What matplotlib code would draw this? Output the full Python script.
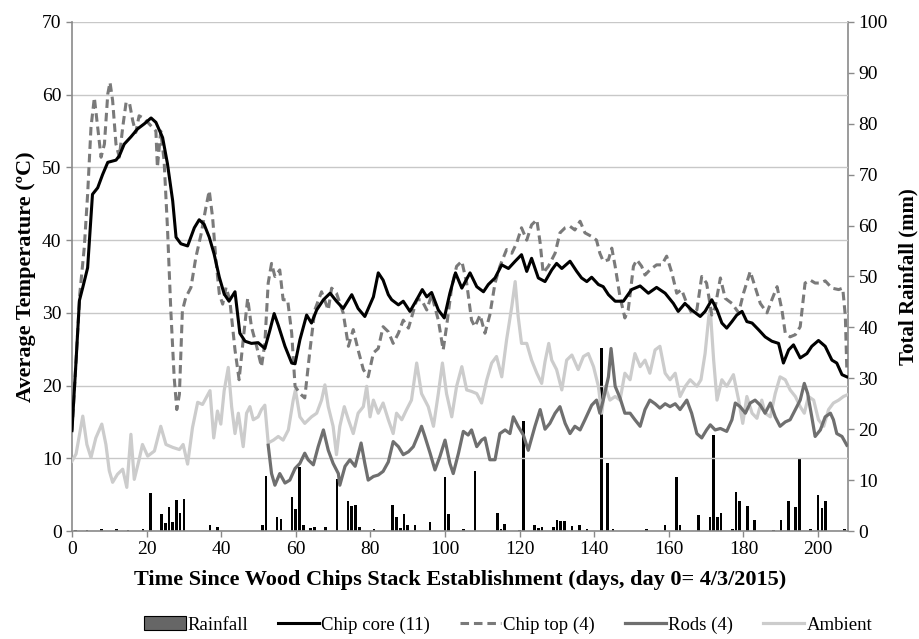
import matplotlib
matplotlib.use("Agg")
import matplotlib.pyplot as plt
from matplotlib.patches import Patch
from matplotlib.lines import Line2D

plt.rcParams['font.family'] = ['Liberation Serif', 'DejaVu Serif']

# ---------------- data ----------------
core_day = [0, 1.1, 2, 2.9, 4.2, 5.5, 6.9, 8.2, 9.6, 11.8, 12.7, 14, 15.8, 17.6, 19.4, 21.2, 22.5,
            24.3, 25.6, 27, 27.9, 29.2, 31, 32.8, 34.1, 35.4, 36.8, 38.1, 39.5, 40.8, 42.1, 43.7,
            45, 46.4, 48.1, 49.9, 51.7, 53.1, 54.2, 55.3, 57.1, 58.9, 59.8, 61.1, 62.9, 64.2, 65.6,
            67.4, 69.2, 70.9, 72.7, 75, 76.7, 78.5, 80.8, 82.1, 83.4, 84.8, 85.7, 87.5, 88.8, 90.6,
            92.4, 93.9, 95.1, 96.4, 98.2, 99.8, 101.3, 102.8, 104.5, 106.7, 108.5, 110.3, 111.6,
            113.4, 115.2, 117, 118.8, 120.5, 121.9, 123.2, 125, 126.8, 128.6, 129.9, 131.3, 133.5,
            135.3, 136.6, 138, 139.3, 141.1, 142.4, 143.8, 145.6, 147.8, 150, 152.3, 154.5, 156.7,
            159, 161.2, 162.5, 164.3, 166.1, 168.4, 169.7, 171.5, 172.9, 174.2, 175.5, 176.9, 178.2,
            179.6, 180.9, 182.3, 184, 185.8, 187.6, 189.4, 190.7, 192.1, 193.4, 195.2, 197, 198.3,
            200.1, 201.9, 203.7, 205, 206.4, 207.7]
core_temp = [13.8, 23.4, 31.7, 33.5, 36.2, 46.3, 47.2, 49, 50.7, 51, 51.6, 53.2, 54.2, 55.3, 56, 56.8, 56.2,
             54.1, 50.5, 45.4, 40.4, 39.5, 39.2, 41.7, 42.8, 42.2, 40.4, 38.1, 34.9, 32.6, 31.6, 32.9,
             27.2, 26.1, 25.8, 25.9, 25.1, 27.7, 29.9, 28.3, 25.4, 23.1, 23.0, 26.3, 29.7, 28.6, 30.4,
             31.8, 32.7, 31.6, 30.6, 32.5, 30.6, 29.5, 32.2, 35.5, 34.5, 32.5, 31.8, 31.1, 31.6, 30.2,
             31.8, 33.2, 32.2, 32.8, 30.4, 29.3, 32.7, 35.5, 33.4, 35.5, 33.6, 32.9, 33.9,
             34.8, 36.6, 36.1, 37.1, 38.0, 35.7, 37.5, 34.8, 34.3, 35.9, 36.8, 36.1, 37.1,
             35.7, 34.8, 34.3, 34.9, 33.9, 33.6, 32.5, 31.6, 31.6, 33.2, 33.7, 32.7, 33.5,
             32.7, 31.3, 30.2, 31.3, 30.4, 29.5, 30.2, 31.8, 30.4, 28.6, 27.9, 28.8, 29.7,
             30.2, 28.8, 28.6, 27.7, 26.7, 26.1, 25.8, 23.1, 24.9, 25.6, 23.8, 24.4, 25.4,
             26.2, 25.4, 23.5, 23.1, 21.5, 21.2]

top_day = [0, 1.1, 2.1, 3.3, 4.2, 5.1, 6, 6.9, 7.8, 8.7, 9.6, 10.2, 10.9, 11.8, 12.7, 13.6, 14.5, 15.4,
           16.3, 17.1, 18, 19.4, 21.2, 22.5, 22.9, 23.8, 24.7, 25.6, 26.5, 27.4, 28.1, 28.8, 29.6,
           30.5, 31.9, 33.2, 34.6, 35.9, 36.8, 37.7, 38.6, 39.5, 40.4, 41.3, 42.3, 43.7, 44.8, 45.9,
           47.1, 48.1, 49.5, 50.8, 51.7, 52.6, 53.5, 54.4, 55.7, 56.6, 57.8, 58.9, 59.8, 61.1, 62.4,
           63.8, 65.1, 66.9, 68.7, 69.6, 70.9, 72.7, 74.1, 75.4, 76.7, 78.1, 79.4, 80.8, 82.1, 83.4,
           84.8, 86.1, 87.5, 88.8, 90.2, 91.1, 92.4, 93.7, 95.1, 96.4, 98.2, 99.5, 100.4, 101.8,
           103.1, 104.5, 105.8, 107.1, 108, 109.4, 110.7, 112, 113.4, 114.7, 116.5, 117.9, 119.2,
           120.5, 121.9, 123.2, 124.6, 125.5, 126.3, 127.7, 129.5, 130.8, 132.2, 133.5, 134.8,
           136.2, 137.5, 139.3, 140.6, 141.5, 142.4, 143.8, 144.7, 145.6, 146.9, 148.2, 149.1,
           150.5, 151.4, 152.7, 153.6, 154.9, 156.7, 158.1, 159.4, 160.8, 162.1, 163.4, 164.8,
           166.1, 167.5, 168.8, 170.1, 171.5, 172.4, 173.8, 175.1, 176.9, 178.7, 180, 181.8, 183.1,
           184.5, 186.3, 187.6, 189, 190.3, 191.2, 192.5, 193.9, 195.2, 196.5, 197.9, 199.2, 200.6,
           201.9, 203.7, 205.5, 206.6, 207.3, 207.7]
top_temp = [13.8, 23.4, 32.6, 39, 46.3, 55.5, 59.6, 55.5, 51.4, 53.2, 60.1, 61.7, 59.2, 53.2, 51.4, 55.5, 58.9, 58.9,
            56.4, 54.8, 57.1, 56.7, 55.7, 55, 50, 55, 50.9, 41.7, 30.3, 21.1, 16.7, 18.8, 30.3,
            32.1, 33.5, 37.6, 40.8, 44.5, 46.8, 43.1, 37.2, 32.6, 31.2, 33.5, 31.8, 24.9, 20.8, 26.3,
            32, 28.1, 25.4, 22.6, 25.8, 34.1, 36.8, 35, 35.9, 31.8, 31.8, 27.2, 19.9, 18.9, 18.3,
            24.9, 30.4, 32.9, 30.4, 33.4, 32.7, 30, 25.4, 27.7, 24.9, 22.2, 21.2, 24.5, 25.1, 28.1,
            27.4, 25.8, 27.2, 29, 27.9, 29.5, 31.8, 31.8, 30.4, 32.5, 29, 24.9, 28.1, 33.6,
            36.4, 37.1, 34.1, 29, 28.1, 29.7, 27.2, 29.7, 34.1, 36.4, 38.7, 38.2, 39.6,
            41.7, 40, 42.1, 42.8, 39.6, 35.5, 36.4, 38.2, 41, 41.7, 41.9, 41.4,
            42.6, 41, 40.5, 40, 38.2, 37.1, 37.3, 38.9, 36.4, 32.2, 29.3, 30.4,
            36.4, 37.3, 36.4, 35.2, 35.9, 36.6, 36.6, 37.8, 35.5, 32.7, 33.2, 31.3,
            30, 30.4, 35, 34.1, 29.7, 30.8, 34.8, 32, 31.3, 30, 32.7, 35.7, 33.6,
            31.3, 30, 31.8, 33.6, 30.4, 27.2, 26.7, 27, 28.1, 34.1, 34.5, 34.1, 34.1,
            34.4, 33.4, 33.2, 33.4, 29.5, 22.0]

rods_day = [52.6, 53.5, 54.4, 55.7, 57.1, 58.4, 59.8, 61.1, 62.4, 63.3, 64.7, 66, 67.4, 68.7, 70, 71.4,
            71.8, 73.2, 74.5, 75.9, 77.5, 78.5, 79.4, 80.8, 82.1, 83.4, 84.8, 86.1, 87.5, 88.8, 90.2,
            91.5, 92.8, 93.7, 94.6, 96, 97.3, 98.6, 100, 101.3, 102.2, 103.6, 104.9, 106.2, 107.1,
            108.5, 109.8, 110.7, 112, 113.4, 114.7, 116.1, 117.4, 118.3, 119.6, 121, 122.3, 124.1,
            125.5, 126.8, 128.1, 129.5, 130.8, 132.2, 133.5, 134.8, 136.2, 137.5, 139.3, 140.6,
            141.5, 142.4, 143.8, 144.5, 145.6, 146.9, 148.2, 149.6, 150.9, 152.3, 153.6, 154.9,
            156.3, 157.6, 159, 160.3, 161.7, 163, 164.8, 166.1, 167.5, 168.8, 170.1, 171.1, 172.4,
            173.8, 175.5, 176.9, 177.8, 179.1, 180.5, 181.8, 183.1, 184.5, 185.8, 187.2, 188.5,
            189.8, 191.2, 192.5, 193.9, 195.2, 196.3, 197.2, 198.3, 199.2, 200.6, 201.9, 203.3,
            204.1, 205, 206.4, 207.7]
rods_temp = [11.8, 7.9, 6.3, 7.9, 6.6, 7, 8.6, 9.3, 10.7, 9.8, 9.1, 11.6, 13.9, 11.1, 9.3, 7.9,
             6.3, 8.9, 9.8, 8.9, 12.1, 9.3, 7, 7.5, 7.7, 8.2, 9.5, 12.3, 11.6, 10.5, 10.9,
             11.6, 13.2, 14.4, 13, 10.7, 8.4, 10.2, 12.5, 9.3, 7.9, 10.7, 13.7, 13.2, 13.9,
             11.6, 12.5, 12.8, 9.8, 9.8, 13.4, 13.9, 13.4, 15.7, 14.4, 13.2, 11.1, 14.4,
             16.7, 14, 14.8, 16.2, 17.1, 14.8, 13.4, 14.4, 13.9, 15.3, 17.3, 18,
             16.2, 18, 21.2, 25.1, 19.9, 18.3, 16.2, 16.2, 15.3, 14.4, 16.7, 18,
             17.5, 16.9, 17.5, 17.1, 17.5, 16.7, 18, 16.2, 13.4, 12.8, 13.9, 14.6, 13.9,
             14.1, 13.7, 15.3, 17.6, 17.1, 16.2, 17.6, 18, 17.3, 16.2, 17.6, 15.7,
             14.4, 15, 15.3, 16.7, 18, 20.3, 18.9, 15.7, 13, 13.9, 15.7, 16.2,
             15.3, 13.4, 13, 11.8]

amb_day = [0, 1.1, 2.9, 4, 5.1, 6.4, 8, 9.1, 10, 10.9, 12.2, 13.6, 14.7, 15.8, 16.7, 17.9, 18.9, 20.3,
           22.1, 23.8, 25.2, 27, 28.8, 29.8, 31, 32.3, 33.7, 35, 37, 38, 39, 39.9, 40.8, 41.9,
           42.8, 43.7, 44.6, 45.9, 46.8, 47.7, 48.6, 49.9, 50.8, 51.7, 52.6, 54, 55.3, 56.6, 58,
           59.3, 59.9, 61.1, 62.4, 64.2, 65.6, 66.9, 67.8, 68.7, 70, 70.9, 71.8, 73, 74.1, 75.4,
           76.7, 78.1, 79, 79.9, 80.8, 82.1, 83.4, 84.8, 86.1, 87, 88.4, 89.7, 91, 92.4, 93.7,
           95.5, 96.9, 98.2, 99.3, 100.4, 101.8, 103.1, 104.5, 105.8, 107.1, 108.5, 109.8, 111.2,
           112.5, 113.8, 115.2, 116.5, 117.9, 118.8, 119.6, 120.5, 121.9, 123.2, 124.6, 125.9,
           126.8, 127.8, 128.6, 129.9, 131.3, 132.6, 134, 135.7, 137.1, 138.4, 139.8, 141.1, 142,
           142.9, 144.2, 145.6, 146.9, 148.2, 149.6, 150.9, 152.3, 153.6, 154.9, 156.3, 157.6,
           159, 160.3, 161.7, 163, 164.4, 165.7, 167.5, 168.6, 169.7, 170.7, 171.1, 172, 172.9,
           174.2, 175.5, 177.3, 178.7, 179.8, 180.9, 182.3, 183.6, 184.9, 185.8, 187.2, 188.5,
           189.8, 191.2, 192.5, 193.9, 195.2, 196.3, 197.4, 198.8, 200.1, 201.5, 202.8, 204.1,
           205.5, 206.8, 207.7]
amb_temp = [9.6, 10.6, 15.8, 11.9, 10.1, 12.8, 14.7, 11.9, 8.3, 6.7, 7.8, 8.5, 6, 13.3, 7.1, 9.6, 11.9, 10.3,
            11, 14.4, 11.9, 11.5, 11.2, 11.9, 9.2, 14.2, 17.7, 17.4, 19.3, 12.8, 16.5, 14.7, 19.3, 22.5,
            17.1, 13.4, 16.2, 11.6, 16.2, 17.1, 15.3, 15.7, 16.7, 17.3, 12.1, 12.5, 13, 12.5, 13.9,
            18, 19.4, 15.7, 14.8, 15.7, 16.2, 18, 20.1, 17.1, 14.4, 10.5, 14.4, 17.1, 15.3, 13.4,
            16.2, 17.1, 19.9, 15.7, 18, 16.2, 17.6, 15.3, 13.4, 16.2, 15.3, 16.7, 18, 23.1, 18.9,
            17.1, 14.4, 18.9, 23.1, 18.9, 15.7, 19.9, 22.6, 19.4, 19.2, 18.9, 17.6, 20.8,
            23.1, 24, 21.2, 26.3, 30.9, 34.3, 29.5, 25.8, 25.8, 23.5, 21.7, 20.3,
            23.3, 25.8, 23.5, 22.2, 19.4, 23.5, 24.2, 22.2, 24, 24.4, 22.6, 19.9, 16.2,
            19.9, 18, 18.5, 18, 21.7, 20.8, 24.4, 22.6, 23.5, 21.7, 24.9, 25.4,
            21.7, 20.8, 21.7, 18.5, 19.9, 20.8, 19.9, 20.8, 24.4, 29.5, 30.4, 23.5, 18,
            20.8, 19.9, 21.5, 18, 14.8, 18.5, 16.2, 15.5, 18, 16.2, 15.7, 18.9,
            21.2, 20.8, 19.4, 18.5, 17.1, 16.2, 18.5, 18, 15.3, 14.4, 16.7, 17.6,
            18, 18.5, 18.7]

rain_day = [1, 4, 8, 12, 15, 19, 21, 24, 25, 26, 27, 28, 29, 30, 37, 39, 51, 52, 55, 56, 59, 60, 61, 62,
            64, 65, 68, 71, 74, 75, 76, 77, 81, 86, 87, 88, 89, 90, 92, 96, 100, 101, 105, 108, 114,
            115, 116, 120, 121, 124, 125, 126, 129, 130, 131, 132, 134, 136, 138, 142, 143.5, 145,
            154, 159, 162, 163, 168, 171, 172, 173, 174, 177, 178, 179, 181, 183, 188, 190, 192,
            194, 195, 198, 200, 201, 202, 207]
rain_mm = [0.2, 0.2, 0.3, 0.4, 0.2, 0.4, 7.4, 3.3, 1.6, 4.8, 1.8, 6.0, 3.5, 6.2, 1.2, 0.8, 1.2, 10.8, 2.7, 2.3,
           6.7, 4.4, 12.5, 1.1, 0.6, 0.7, 0.8, 10.2, 5.8, 5.0, 5.2, 0.7, 0.4, 5.1, 2.8, 0.5, 3.3, 1.1,
           1.1, 1.8, 10.7, 3.3, 0.3, 11.8, 3.5, 0.3, 1.3, 0.2, 21.7, 1.1, 0.5, 0.7, 0.8, 2.2, 1.9, 1.9,
           0.9, 1.2, 0.3, 35.9, 13.3, 0.4, 0.3, 1.1, 10.7, 1.1, 3.1, 2.8, 18.9, 2.8, 3.5, 0.3, 7.7,
           5.8, 5.0, 2.1, 0.1, 2.2, 5.8, 4.7, 14.1, 0.3, 7.1, 4.5, 5.9, 0.3]

x_ticks = [0, 20, 40, 60, 80, 100, 120, 140, 160, 180, 200]
temp_ticks = [0, 10, 20, 30, 40, 50, 60, 70]
rain_ticks = [0, 10, 20, 30, 40, 50, 60, 70, 80, 90, 100]

# ---------------- figure ----------------
fig = plt.figure(figsize=(9.19, 6.39), dpi=100)
ax = fig.add_axes([0.0783, 0.169, 0.8444, 0.7966])
ax2 = ax.twinx()

spine_c = '#8a8a8a'
grid_c = '#c8c8c8'

ax2.bar(rain_day, rain_mm, width=0.7, color='black', edgecolor='none', zorder=2)
ax2.set_ylim(0, 100)
ax2.set_yticks(rain_ticks)

ax.plot(amb_day, amb_temp, color='#cccccc', lw=2.3, zorder=3, solid_joinstyle='round')
ax.plot(rods_day, rods_temp, color='#6f6f6f', lw=2.3, zorder=4, solid_joinstyle='round')
ax.plot(top_day, top_temp, color='#7a7a7a', lw=2.2, zorder=5, linestyle=(0, (2.8, 1.6)))
ax.plot(core_day, core_temp, color='black', lw=2.2, zorder=6, solid_joinstyle='round')

ax.set_zorder(ax2.get_zorder() + 1)
ax.patch.set_visible(False)

ax.set_xlim(0, 208)
ax.set_ylim(0, 70)
ax.set_xticks(x_ticks)
ax.set_yticks(temp_ticks)
ax.yaxis.grid(True, color=grid_c, lw=1.0)
ax.set_axisbelow(True)

for a in (ax, ax2):
    a.spines['top'].set_visible(False)
    for s in ('left', 'right', 'bottom'):
        a.spines[s].set_color(spine_c)
        a.spines[s].set_linewidth(1.2)
    a.tick_params(colors=spine_c, labelcolor='black', labelsize=14, length=4, width=1)
ax.spines['right'].set_visible(False)
ax2.spines['left'].set_visible(False)
ax2.spines['bottom'].set_visible(False)

ax.set_xlabel('Time Since Wood Chips Stack Establishment (days, day 0= 4/3/2015)',
              fontsize=16, fontweight='bold', labelpad=8)
ax.set_ylabel('Average Temperature (ºC)', fontsize=16, fontweight='bold', labelpad=4)
ax2.set_ylabel('Total Rainfall (mm)', fontsize=15, fontweight='bold', labelpad=8)

handles = [Patch(facecolor='#666666', edgecolor='black', lw=0.8),
           Line2D([], [], color='black', lw=2.2),
           Line2D([], [], color='#7a7a7a', lw=2.2, linestyle=(0, (2.8, 1.6))),
           Line2D([], [], color='#6f6f6f', lw=2.3),
           Line2D([], [], color='#cccccc', lw=2.3)]
labels = ['Rainfall', 'Chip core (11)', 'Chip top (4)', 'Rods (4)', 'Ambient']
fig.legend(handles, labels, loc='center', bbox_to_anchor=(0.553, 0.022), ncol=5, frameon=False,
           fontsize=13.5, handlelength=2.2, handletextpad=0.1, columnspacing=1.6)

fig.savefig('out.png', dpi=100)
